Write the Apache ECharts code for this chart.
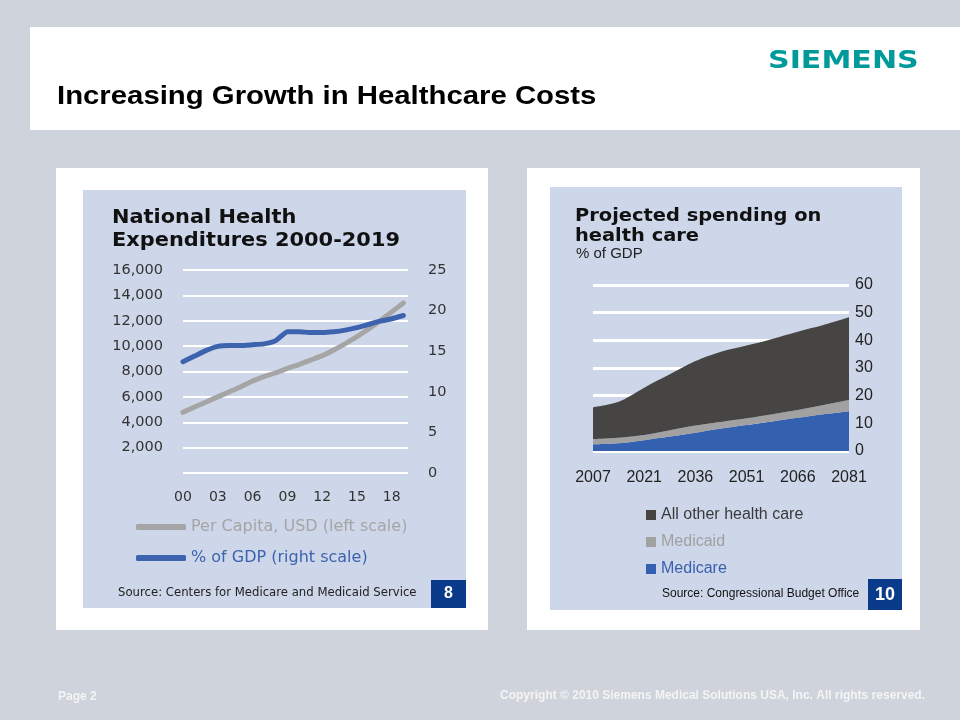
<!DOCTYPE html>
<html><head><meta charset="utf-8">
<script src="https://cdn.jsdelivr.net/npm/echarts@6/dist/echarts.min.js"></script>
<style>html,body{margin:0;padding:0;background:#cfd3db;}#c{width:960px;height:720px;}</style>
</head><body><div id="c"></div>
<script>
// ---- Left chart: National Health Expenditures 2000-2019 ----
const nheYears = [2000,2001,2002,2003,2004,2005,2006,2007,2008,2009,2010,2011,2012,2013,2014,2015,2016,2017,2018,2019];
const perCapitaUSD = [4780,5200,5600,6000,6400,6800,7250,7600,7900,8250,8550,8900,9250,9700,10200,10750,11350,12000,12700,13400];
const gdpShare = [13.7,14.4,15.1,15.6,15.7,15.7,15.8,15.9,16.3,17.4,17.4,17.3,17.3,17.4,17.6,17.9,18.3,18.7,19.0,19.4];
const nheTickLabels = ['00','03','06','09','12','15','18'];
const nheSeriesNames = ['Per Capita, USD (left scale)','% of GDP (right scale)'];

// ---- Right chart: Projected spending on health care (% of GDP) ----
const projYears = ['2007','2014','2021','2029','2036','2044','2051','2059','2066','2074','2081'];
const medicare = [2.4,2.8,3.9,5.2,6.6,8.1,9.4,10.7,12.0,13.3,14.4];
const medicaid = [1.9,2.0,1.9,2.3,2.6,2.4,2.4,2.6,2.8,3.3,4.0];
const allOther = [11.5,13.0,17.1,20.2,23.3,25.4,26.3,27.2,28.3,28.9,29.9];
const projSeriesNames = ['All other health care','Medicaid','Medicare'];

const C = {
  slide:'#cfd3db', panel:'#cdd7e9', gray:'#a5a5a5', blue:'#3d63ae',
  dark:'#474444', mcaid:'#a1a1a1', mcare:'#3460b0', badge:'#0a3a8a', teal:'#009a9a'
};
const DJ = 'DejaVu Sans', LS = 'Liberation Sans, Arial, sans-serif';

function txt(x, y, text, o) {
  o = o || {};
  return {
    type:'text', x:x, y:y, z:10, scaleX:o.scaleX||1, scaleY:1,
    style:{ text:text, fill:o.fill||'#000', fontFamily:o.family||LS, fontSize:o.size||14,
      fontWeight:o.weight||'normal', textAlign:o.align||'left', align:o.align||'left',
      textVerticalAlign:'middle', verticalAlign:'middle' }
  };
}
function rect(x, y, w, h, fill) {
  return { type:'rect', z:-10, shape:{x:x,y:y,width:w,height:h}, style:{fill:fill} };
}
const fmtComma = v => v.toString().replace(/\B(?=(\d{3})+(?!\d))/g, ',');

const chart = echarts.init(document.getElementById('c'), null, {renderer:'canvas'});
chart.setOption({
  backgroundColor: C.slide,
  animation: false,
  graphic: [
    rect(30, 27, 930, 103, '#ffffff'),
    rect(56, 168, 432, 462, '#ffffff'),
    rect(83, 190, 383, 418, C.panel),
    rect(527, 168, 393, 462, '#ffffff'),
    rect(550, 187, 352, 423, C.panel),
    txt(57, 97, 'Increasing Growth in Healthcare Costs', {size:25.5, weight:'bold', scaleX:1.15}),
    txt(768, 61, 'SIEMENS', {family:DJ, size:25.5, weight:'bold', fill:C.teal, scaleX:1.18}),
    txt(112, 218, 'National Health', {family:DJ, size:19, weight:'bold', fill:'#111', scaleX:1.1}),
    txt(112, 241, 'Expenditures 2000-2019', {family:DJ, size:19, weight:'bold', fill:'#111', scaleX:1.1}),
    txt(118, 593, 'Source: Centers for Medicare and Medicaid Service', {family:DJ, size:11.7, fill:'#222'}),
    { type:'rect', z:5, shape:{x:431,y:580,width:35,height:28}, style:{fill:C.badge} },
    txt(448.5, 594, '8', {size:16, weight:'bold', fill:'#fff', align:'center'}),
    txt(575, 216, 'Projected spending on', {family:DJ, size:18.5, weight:'bold', fill:'#111', scaleX:1.05}),
    txt(575, 236, 'health care', {family:DJ, size:18.5, weight:'bold', fill:'#111', scaleX:1.05}),
    txt(576, 254, '% of GDP', {size:15, fill:'#222'}),
    txt(662, 594, 'Source: Congressional Budget Office', {size:12, fill:'#111'}),
    { type:'rect', z:5, shape:{x:868,y:579,width:34,height:31}, style:{fill:C.badge} },
    txt(885, 595, '10', {size:18, weight:'bold', fill:'#fff', align:'center'}),
    txt(58, 697, 'Page 2', {size:12, weight:'bold', fill:'#f4f4f4'}),
    txt(925, 696, 'Copyright \u00a9 2010 Siemens Medical Solutions USA, Inc. All rights reserved.', {size:12, weight:'bold', fill:'#f4f4f4', align:'right'})
  ],
  legend: [
    { left:131, top:514, orient:'vertical', itemWidth:50, itemHeight:6, itemGap:15, icon:'roundRect',
      selectedMode:false,
      textStyle:{fontFamily:DJ, fontSize:16},
      data:[{name:nheSeriesNames[0], textStyle:{color:C.gray}}, {name:nheSeriesNames[1], textStyle:{color:C.blue}}] },
    { left:641, top:502, orient:'vertical', itemWidth:10, itemHeight:10, itemGap:11, icon:'rect',
      selectedMode:false,
      textStyle:{fontFamily:LS, fontSize:16},
      data:[{name:projSeriesNames[0], textStyle:{color:'#3a3a3a'}},
            {name:projSeriesNames[1], textStyle:{color:'#a0a0a0'}},
            {name:projSeriesNames[2], textStyle:{color:'#3a5fae'}}] }
  ],
  grid: [
    { left:183, top:270, width:225, height:203 },
    { left:593, top:285, width:256, height:166 }
  ],
  xAxis: [
    { gridIndex:0, type:'value', min:0, max:19.4, interval:3,
      axisLine:{show:false}, axisTick:{show:false}, splitLine:{show:false},
      axisLabel:{ margin:17, color:'#333', fontFamily:DJ, fontSize:14, showMaxLabel:false,
        formatter: v => (v % 3 === 0 && nheTickLabels[v/3] !== undefined) ? nheTickLabels[v/3] : '' } },
    { gridIndex:1, type:'category', data:projYears, boundaryGap:false,
      axisLine:{show:false}, axisTick:{show:false}, splitLine:{show:false},
      axisLabel:{ interval:1, margin:19, color:'#222', fontFamily:LS, fontSize:16 } }
  ],
  yAxis: [
    { gridIndex:0, type:'value', min:0, max:16000, interval:2000, position:'left',
      axisLine:{show:false}, axisTick:{show:false},
      splitLine:{show:true, lineStyle:{color:'#ffffff', width:2}},
      axisLabel:{ margin:20, color:'#333', fontFamily:DJ, fontSize:14.5,
        formatter: v => v === 0 ? '' : fmtComma(v) } },
    { gridIndex:0, type:'value', min:0, max:25, interval:5, position:'right',
      axisLine:{show:false}, axisTick:{show:false}, splitLine:{show:false},
      axisLabel:{ margin:20, color:'#333', fontFamily:DJ, fontSize:14.5 } },
    { gridIndex:1, type:'value', min:0, max:60, interval:10, position:'right',
      axisLine:{show:false}, axisTick:{show:false},
      splitLine:{show:true, lineStyle:{color:'#ffffff', width:3}},
      axisLabel:{ margin:6, color:'#222', fontFamily:LS, fontSize:16 } }
  ],
  series: [
    { name:nheSeriesNames[0], type:'line', xAxisIndex:0, yAxisIndex:0, showSymbol:false, smooth:0.2,
      color:C.gray, lineStyle:{color:C.gray, width:5, cap:'round'},
      data: nheYears.map((y,i) => [y-2000, perCapitaUSD[i]]) },
    { name:nheSeriesNames[1], type:'line', xAxisIndex:0, yAxisIndex:1, showSymbol:false, smooth:0.15,
      color:C.blue, lineStyle:{color:C.blue, width:5, cap:'round'},
      data: nheYears.map((y,i) => [y-2000, gdpShare[i]]) },
    { name:projSeriesNames[2], type:'line', xAxisIndex:1, yAxisIndex:2, stack:'gdp', showSymbol:false, smooth:0.3,
      color:C.mcare, lineStyle:{width:0}, areaStyle:{color:C.mcare, opacity:1}, data:medicare },
    { name:projSeriesNames[1], type:'line', xAxisIndex:1, yAxisIndex:2, stack:'gdp', showSymbol:false, smooth:0.3,
      color:C.mcaid, lineStyle:{width:0}, areaStyle:{color:C.mcaid, opacity:1}, data:medicaid },
    { name:projSeriesNames[0], type:'line', xAxisIndex:1, yAxisIndex:2, stack:'gdp', showSymbol:false, smooth:0.3,
      color:C.dark, lineStyle:{width:0}, areaStyle:{color:C.dark, opacity:1}, data:allOther }
  ]
});
</script>
</body></html>
